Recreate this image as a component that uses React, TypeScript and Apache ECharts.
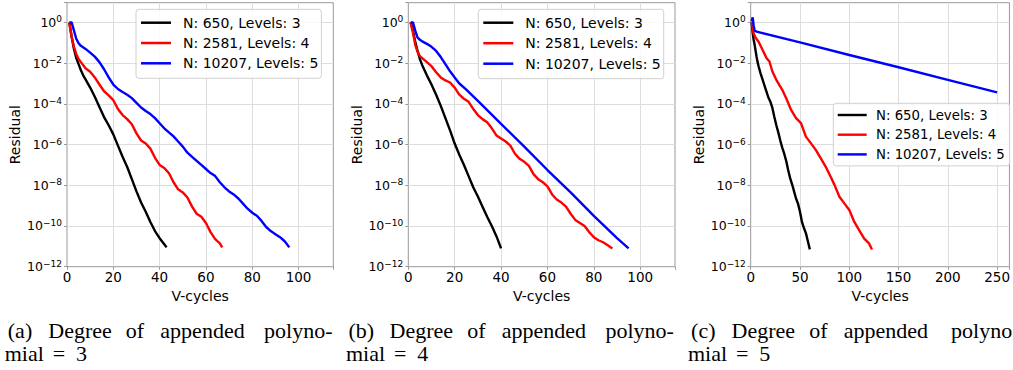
import React, { useEffect, useRef } from "react";
import * as echarts from "echarts";

// ---- data: [V-cycle, log10(residual)] ----
const seriesNames = ["N: 650, Levels: 3", "N: 2581, Levels: 4", "N: 10207, Levels: 5"];
const seriesColors = ["#000000", "#ff0000", "#0000ff"];

// (a) degree 3
const aBlack = [[1,0],[2,-0.7],[3,-1.3],[4,-1.75],[5,-2.05],[6,-2.35],[7,-2.6],[8,-2.8],[10,-3.2],[12,-3.65],[14,-4.15],[16,-4.65],[18,-5.05],[20,-5.5],[22,-6.05],[24,-6.6],[26,-7.1],[28,-7.7],[30,-8.3],[32,-8.85],[34,-9.3],[36,-9.8],[38,-10.25],[40,-10.6],[42,-10.9],[43,-11.05]];
const aRed = [[1,0],[2,-0.7],[3,-1.2],[4,-1.55],[5,-1.8],[6,-1.95],[7,-2.1],[8,-2.25],[10,-2.42],[12,-2.7],[14,-3.05],[16,-3.38],[18,-3.58],[20,-3.82],[22,-4.25],[24,-4.55],[26,-4.75],[28,-5.0],[30,-5.45],[32,-5.8],[34,-5.95],[36,-6.2],[38,-6.65],[40,-7.0],[42,-7.15],[44,-7.4],[46,-7.85],[48,-8.2],[50,-8.35],[52,-8.6],[54,-9.05],[56,-9.4],[58,-9.55],[60,-9.85],[62,-10.3],[64,-10.65],[66,-10.85],[67,-11.05]];
const aBlue = [[1,0],[2,0],[3,-0.4],[4,-0.8],[5,-1.02],[6,-1.15],[8,-1.3],[10,-1.48],[12,-1.68],[14,-1.95],[16,-2.3],[18,-2.7],[20,-3.05],[22,-3.27],[24,-3.42],[26,-3.55],[28,-3.72],[30,-3.95],[32,-4.18],[34,-4.35],[36,-4.5],[38,-4.7],[40,-4.95],[42,-5.2],[44,-5.4],[46,-5.6],[48,-5.85],[50,-6.1],[52,-6.4],[54,-6.6],[56,-6.8],[58,-7.0],[60,-7.2],[62,-7.4],[64,-7.55],[66,-7.85],[68,-8.1],[70,-8.3],[72,-8.45],[74,-8.65],[76,-8.9],[78,-9.15],[80,-9.35],[82,-9.5],[84,-9.75],[86,-10.05],[88,-10.25],[90,-10.4],[92,-10.55],[94,-10.75],[96,-11.05]];

// (b) degree 4
const bBlack = [[1,0],[2,-0.4],[3,-0.95],[4,-1.4],[5,-1.8],[6,-2.1],[8,-2.6],[10,-3.05],[12,-3.55],[14,-4.1],[16,-4.7],[18,-5.3],[20,-5.95],[22,-6.5],[24,-7.0],[26,-7.55],[28,-8.1],[30,-8.55],[32,-9.05],[34,-9.55],[36,-10.0],[38,-10.5],[40,-11.1]];
const bRed = [[1,0],[2,-0.5],[3,-1.1],[4,-1.45],[5,-1.65],[6,-1.75],[7,-1.85],[8,-1.95],[10,-2.15],[12,-2.45],[14,-2.7],[16,-2.85],[18,-2.95],[20,-3.2],[22,-3.55],[24,-3.75],[26,-3.9],[28,-4.25],[30,-4.55],[32,-4.75],[34,-4.9],[36,-5.2],[38,-5.55],[40,-5.7],[42,-5.85],[44,-6.05],[46,-6.45],[48,-6.7],[50,-6.85],[52,-7.05],[54,-7.45],[56,-7.7],[58,-7.85],[60,-8.05],[62,-8.45],[64,-8.7],[66,-8.85],[68,-9.05],[70,-9.4],[72,-9.7],[74,-9.85],[76,-10.0],[78,-10.3],[80,-10.55],[82,-10.7],[84,-10.8],[86,-10.95],[88,-11.1]];
const bBlue = [[1,0],[2,0],[3,-0.4],[4,-0.75],[5,-0.85],[6,-0.93],[8,-1.05],[10,-1.2],[12,-1.4],[14,-1.7],[16,-2.05],[18,-2.4],[20,-2.7],[22,-3.0],[25,-3.3],[30,-3.85],[40,-4.98],[50,-6.1],[60,-7.25],[70,-8.35],[80,-9.5],[90,-10.6],[95,-11.1]];

// (c) degree 5
const cBlack = [[1,0],[2,-0.5],[3,-0.85],[4,-1.1],[5,-1.4],[6,-1.7],[7,-1.95],[8,-2.15],[10,-2.5],[12,-2.8],[14,-3.1],[16,-3.4],[18,-3.7],[20,-3.9],[22,-4.2],[24,-4.65],[26,-5.05],[28,-5.4],[30,-5.8],[32,-6.15],[34,-6.45],[36,-6.8],[38,-7.25],[40,-7.65],[42,-7.95],[44,-8.3],[46,-8.65],[48,-8.9],[50,-9.3],[52,-9.8],[54,-10.1],[56,-10.35],[58,-10.75],[60,-11.15]];
const cRed = [[1,0],[3,-0.55],[5,-0.75],[8,-0.95],[12,-1.34],[16,-1.75],[19,-1.92],[22,-2.41],[26,-2.82],[29,-3.07],[32,-3.31],[36,-3.72],[41,-4.3],[46,-4.7],[51,-4.95],[56,-5.61],[61,-5.93],[66,-6.26],[71,-6.67],[76,-7.08],[81,-7.57],[85,-7.98],[90,-8.56],[95,-8.89],[100,-9.21],[105,-9.79],[110,-10.2],[115,-10.61],[120,-10.85],[123,-11.15]];
const cBlue = [[1,0.05],[2,0.25],[3,-0.15],[4,-0.4],[6,-0.45],[50,-0.98],[100,-1.6],[150,-2.2],[200,-2.82],[250,-3.44]];

const panelData = [
  [aBlack, aRed, aBlue],
  [bBlack, bRed, bBlue],
  [cBlack, cRed, cBlue],
];
const xMaxes = [115, 115, 262.5];
const xIntervals = [20, 20, 50];
const yMin = 1e-12;
const yMax = 9.33;

const captionLine1 = [
  ["(a)", "Degree", "of", "appended", "polyno-"],
  ["(b)", "Degree", "of", "appended", "polyno-"],
  ["(c)", "Degree", "of", "appended", "polyno"],
];
const captionLine2 = [
  ["mial", "=", "3"],
  ["mial", "=", "4"],
  ["mial", "=", "5"],
];

// ---- layout ----
const gridBoxes = [
  { left: 67, top: 2.7, width: 266.3, height: 264 },
  { left: 408.3, top: 2.7, width: 266.7, height: 264 },
  { left: 750.7, top: 2.7, width: 264, height: 264 },
];
const legendPos = [
  { left: 136, top: 9.3, fs: 14, ih: 14, gap: 6.3, iw: 30, tp: 7, pad: [6.4, 3, 8, 5] },
  { left: 478.3, top: 9.3, fs: 14, ih: 14, gap: 6.5, iw: 30, tp: 7, pad: [6.4, 3, 8, 5] },
  { left: 833.3, top: 103.3, fs: 13.3, ih: 13, gap: 6.7, iw: 29, tp: 4.3, pad: [5.2, 5, 5, 4.4] },
];
const captionX = [6.7, 348, 690];
const word1Centers = [13.3, 73.3, 128.3, 195.8, 291.6];
const word2Centers = [17.5, 52.3, 74.8];

const FONT = "DejaVu Sans";
const LINE_ICON = "path://M0,0 L30,0 L30,2.5 L0,2.5 Z";

function yLabel(v: number): string {
  const e = Math.log10(v);
  const r = Math.round(e);
  if (Math.abs(e - r) > 1e-6) return "";
  const s = r < 0 ? "\u2212" + Math.abs(r) : String(r);
  return `{b|10}{e|${s}}`;
}

export default function App() {
  const ref = useRef<HTMLDivElement>(null);
  useEffect(() => {
    if (!ref.current) return;
    const chart = echarts.init(ref.current, null, { renderer: "svg", width: 1013, height: 370 });

    const grid = gridBoxes.map((g) => ({
      ...g,
      show: true,
      borderColor: "#999999",
      borderWidth: 1,
      backgroundColor: "transparent",
      containLabel: false,
    }));

    const xAxis = gridBoxes.map((_, i) => ({
      type: "value",
      gridIndex: i,
      min: 0,
      max: xMaxes[i],
      interval: xIntervals[i],
      name: "V-cycles",
      nameLocation: "middle",
      nameGap: 18.8,
      nameTextStyle: { fontFamily: FONT, fontSize: 14, color: "#000" },
      axisLine: { show: false },
      axisTick: { show: true, length: 3, lineStyle: { color: "#999" } },
      axisLabel: {
        fontFamily: FONT,
        fontSize: 13.5,
        color: "#000",
        margin: 3.5,
        formatter: (v: number) => (Math.abs(v % xIntervals[i]) < 1e-9 ? String(v) : ""),
      },
      splitLine: { show: true, showMinLine: false, showMaxLine: false, lineStyle: { color: "#dddddd", width: 1 } },
    }));

    const yAxis = gridBoxes.map((_, i) => ({
      type: "log",
      logBase: 10,
      gridIndex: i,
      min: yMin,
      max: yMax,
      interval: 2,
      name: "Residual",
      nameLocation: "middle",
      nameGap: 44.7,
      nameRotate: 90,
      nameTextStyle: { fontFamily: FONT, fontSize: 14, color: "#000" },
      axisLine: { show: false },
      axisTick: { show: true, length: 3, lineStyle: { color: "#999" } },
      axisLabel: {
        margin: 5,
        formatter: yLabel,
        rich: {
          b: { fontFamily: FONT, fontSize: 12.5, color: "#000", lineHeight: 15 },
          e: { fontFamily: FONT, fontSize: 9, color: "#000", verticalAlign: "top", lineHeight: 9 },
        },
      },
      splitLine: { show: true, showMinLine: false, showMaxLine: false, lineStyle: { color: "#dddddd", width: 1 } },
    }));

    const series: any[] = [];
    panelData.forEach((panel, p) => {
      panel.forEach((pts, s) => {
        series.push({
          type: "line",
          name: seriesNames[s],
          xAxisIndex: p,
          yAxisIndex: p,
          symbol: "none",
          data: pts.map(([c, lg]) => [c, Math.pow(10, lg)]),
          lineStyle: { color: seriesColors[s], width: 2.4 },
          itemStyle: { color: seriesColors[s] },
          z: 3,
        });
      });
    });

    const legend = legendPos.map((l) => ({
      data: seriesNames.map((n) => ({ name: n, icon: LINE_ICON })),
      orient: "vertical",
      left: l.left,
      top: l.top,
      itemWidth: l.iw,
      itemHeight: l.ih,
      itemGap: l.gap,
      padding: l.pad,
      selectedMode: false,
      backgroundColor: "rgba(255,255,255,0.85)",
      borderColor: "#d0d0d0",
      borderWidth: 1,
      borderRadius: 3,
      textStyle: { fontFamily: FONT, fontSize: l.fs, color: "#000", padding: [0, 0, 0, l.tp] },
      z: 10,
    }));

    const graphic: any[] = [];
    captionX.forEach((cx, i) => {
      captionLine1[i].forEach((w, k) => {
        graphic.push({
          type: "text",
          x: cx + word1Centers[k],
          y: 330.9,
          style: { text: w, font: '22px "Liberation Serif"', fill: "#000", align: "center", verticalAlign: "middle" },
        });
      });
      captionLine2[i].forEach((w, k) => {
        graphic.push({
          type: "text",
          x: cx + word2Centers[k],
          y: 353.6,
          style: { text: w, font: '22px "Liberation Serif"', fill: "#000", align: "center", verticalAlign: "middle" },
        });
      });
    });

    chart.setOption({
      animation: false,
      backgroundColor: "#ffffff",
      grid,
      xAxis,
      yAxis,
      legend,
      series,
      graphic,
    } as any);

    return () => chart.dispose();
  }, []);

  return (
    <div
      ref={ref}
      style={{ position: "absolute", left: 0, top: 0, width: 1013, height: 370, overflow: "hidden" }}
    />
  );
}
